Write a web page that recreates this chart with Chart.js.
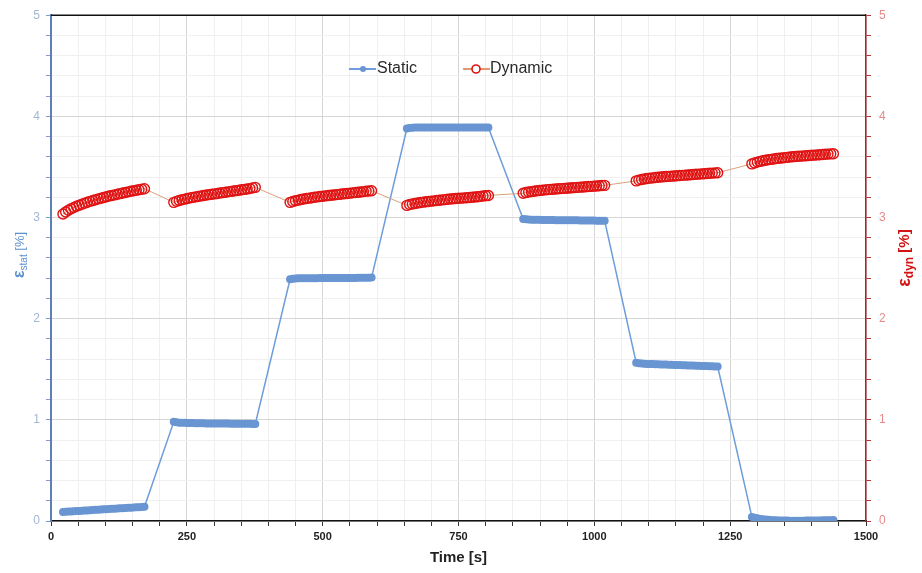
<!DOCTYPE html>
<html><head><meta charset="utf-8">
<script src="https://cdn.jsdelivr.net/npm/chart.js@4.4.0/dist/chart.umd.min.js"></script>
<style>html,body{margin:0;padding:0;background:#fff;overflow:hidden}</style>
</head><body>
<canvas id="c" width="922" height="573"></canvas>
<script>
// ---- data ----
const seriesNames = ['Static', 'Dynamic'];
const time = [
  22,27,32,37,42,47,52,57,62,67,72,77,82,87,92,97,102,107,112,117,122,127,132,137,142,147,152,157,162,167,172,
  226,231,236,241,246,251,256,261,266,271,276,281,286,291,296,301,306,311,316,321,326,331,336,341,346,351,356,361,366,371,376,
  440,445,450,455,460,465,470,475,480,485,490,495,500,505,510,515,520,525,530,535,540,545,550,555,560,565,570,575,580,585,590,
  655,660,665,670,675,680,685,690,695,700,705,710,715,720,725,730,735,740,745,750,755,760,765,770,775,780,785,790,795,800,805,
  869,874,879,884,889,894,899,904,909,914,919,924,929,934,939,944,949,954,959,964,969,974,979,984,989,994,999,1004,1009,1014,1019,
  1077,1082,1087,1092,1097,1102,1107,1112,1117,1122,1127,1132,1137,1142,1147,1152,1157,1162,1167,1172,1177,1182,1187,1192,1197,1202,1207,1212,1217,1222,1227,
  1290,1295,1300,1305,1310,1315,1320,1325,1330,1335,1340,1345,1350,1355,1360,1365,1370,1375,1380,1385,1390,1395,1400,1405,1410,1415,1420,1425,1430,1435,1440
];
const staticStrain = [
  0.090,0.092,0.093,0.095,0.097,0.098,0.100,0.102,0.103,0.105,0.107,0.108,0.110,0.112,0.113,0.115,0.117,0.118,0.120,0.122,0.123,0.125,0.127,0.128,0.130,0.132,0.133,0.135,0.137,0.138,0.140,
  0.980,0.975,0.972,0.970,0.970,0.969,0.968,0.968,0.967,0.967,0.966,0.966,0.965,0.965,0.965,0.964,0.964,0.964,0.963,0.963,0.963,0.962,0.962,0.962,0.962,0.961,0.961,0.961,0.961,0.960,0.960,
  2.390,2.395,2.398,2.400,2.400,2.400,2.400,2.400,2.400,2.400,2.400,2.401,2.401,2.401,2.401,2.401,2.402,2.402,2.402,2.402,2.402,2.403,2.403,2.403,2.403,2.404,2.404,2.404,2.405,2.405,2.406,
  3.880,3.885,3.888,3.889,3.890,3.890,3.890,3.890,3.890,3.890,3.890,3.890,3.890,3.890,3.890,3.890,3.890,3.890,3.890,3.890,3.890,3.890,3.890,3.890,3.890,3.890,3.890,3.890,3.890,3.890,3.890,
  2.985,2.982,2.980,2.979,2.978,2.977,2.977,2.976,2.976,2.975,2.975,2.975,2.974,2.974,2.974,2.973,2.973,2.973,2.972,2.972,2.972,2.971,2.971,2.971,2.970,2.970,2.970,2.969,2.969,2.968,2.968,
  1.565,1.560,1.557,1.555,1.553,1.552,1.551,1.550,1.549,1.548,1.547,1.546,1.545,1.544,1.543,1.542,1.541,1.540,1.539,1.538,1.537,1.536,1.535,1.534,1.533,1.532,1.531,1.530,1.529,1.528,1.527,
  0.040,0.032,0.026,0.021,0.017,0.014,0.012,0.010,0.008,0.007,0.006,0.005,0.004,0.004,0.003,0.003,0.003,0.003,0.003,0.003,0.004,0.004,0.005,0.005,0.006,0.006,0.007,0.007,0.008,0.008,0.009
];
const dynamicStrain = [
  3.035,3.055,3.072,3.086,3.099,3.111,3.122,3.132,3.142,3.151,3.160,3.168,3.176,3.184,3.191,3.198,3.205,3.212,3.218,3.224,3.230,3.236,3.242,3.248,3.254,3.259,3.264,3.270,3.275,3.280,3.285,
  3.150,3.160,3.168,3.175,3.182,3.188,3.194,3.199,3.204,3.209,3.214,3.218,3.222,3.226,3.230,3.234,3.238,3.242,3.246,3.250,3.254,3.258,3.262,3.266,3.270,3.274,3.278,3.282,3.286,3.293,3.298,
  3.150,3.159,3.166,3.172,3.178,3.183,3.188,3.192,3.196,3.200,3.204,3.208,3.211,3.214,3.217,3.220,3.223,3.226,3.229,3.232,3.235,3.238,3.241,3.244,3.247,3.250,3.253,3.256,3.259,3.262,3.265,
  3.120,3.128,3.134,3.139,3.144,3.148,3.152,3.156,3.159,3.162,3.165,3.168,3.171,3.174,3.177,3.180,3.183,3.186,3.188,3.190,3.192,3.194,3.196,3.198,3.200,3.203,3.206,3.209,3.212,3.215,3.218,
  3.240,3.247,3.252,3.256,3.260,3.264,3.267,3.270,3.273,3.276,3.278,3.280,3.282,3.284,3.286,3.288,3.290,3.292,3.294,3.296,3.298,3.300,3.302,3.304,3.306,3.308,3.310,3.312,3.314,3.316,3.318,
  3.362,3.370,3.376,3.381,3.385,3.389,3.392,3.395,3.398,3.401,3.403,3.405,3.407,3.409,3.411,3.413,3.415,3.417,3.419,3.421,3.423,3.425,3.427,3.429,3.431,3.433,3.435,3.437,3.439,3.441,3.443,
  3.530,3.540,3.548,3.555,3.561,3.566,3.571,3.575,3.579,3.583,3.586,3.589,3.592,3.595,3.598,3.601,3.603,3.605,3.607,3.609,3.611,3.613,3.615,3.617,3.619,3.621,3.623,3.625,3.627,3.629,3.631
];
const xTickLabels = [0, 250, 500, 750, 1000, 1250, 1500];
const yTickLabels = [0, 1, 2, 3, 4, 5];
const xTitle = 'Time [s]';
const yLeftTitle = ['ε', 'stat', ' [%]'];
const yRightTitle = ['ε', 'dyn', ' [%]'];

// ---- build ----
const pts = arr => arr.map((v, i) => ({x: time[i], y: v}));
const isLabel = (list, v) => list.some(t => Math.abs(t - v) < 1e-6);
const FONT = '"Liberation Sans", Arial, sans-serif';

function vTitle(ctx, x, y, parts, sizes, color, bolds) {
  ctx.save();
  ctx.translate(x, y);
  ctx.rotate(-Math.PI / 2);
  ctx.fillStyle = color;
  ctx.textBaseline = 'middle';
  ctx.textAlign = 'left';
  const fonts = sizes.map((s, i) => (bolds[i] ? 'bold ' : '') + s + 'px ' + FONT);
  const w = parts.map((p, i) => { ctx.font = fonts[i]; return ctx.measureText(p).width; });
  let cx = -w.reduce((a, b) => a + b, 0) / 2;
  parts.forEach((p, i) => {
    ctx.font = fonts[i];
    ctx.fillText(p, cx, i === 1 ? sizes[0] * 0.25 : 0);
    cx += w[i];
  });
  ctx.restore();
}

const deco = {
  id: 'deco',
  afterDraw(chart) {
    const {ctx, chartArea: a} = chart;
    ctx.save();
    // top frame line
    ctx.strokeStyle = '#111';
    ctx.lineWidth = 1.5;
    ctx.beginPath(); ctx.moveTo(a.left, a.top); ctx.lineTo(a.right, a.top); ctx.stroke();
    // legend
    const ds = chart.data.datasets;
    const ly = 69;
    ctx.font = '16px ' + FONT;
    ctx.textBaseline = 'middle';
    // static
    ctx.strokeStyle = ds[0].borderColor; ctx.lineWidth = 2;
    ctx.beginPath(); ctx.moveTo(349, ly); ctx.lineTo(376, ly); ctx.stroke();
    ctx.fillStyle = ds[0].pointBackgroundColor;
    ctx.beginPath(); ctx.arc(363, ly, 3, 0, Math.PI * 2); ctx.fill();
    ctx.fillStyle = '#2a2a2a';
    ctx.fillText(ds[0].label, 377, ly);
    // dynamic
    ctx.strokeStyle = '#e39a6a'; ctx.lineWidth = 2;
    ctx.beginPath(); ctx.moveTo(463, ly); ctx.lineTo(490, ly); ctx.stroke();
    ctx.strokeStyle = ds[1].pointBorderColor; ctx.lineWidth = 1.6;
    ctx.fillStyle = '#fff';
    ctx.beginPath(); ctx.arc(476, ly, 4, 0, Math.PI * 2); ctx.fill(); ctx.stroke();
    ctx.fillStyle = '#2a2a2a';
    ctx.fillText(ds[1].label, 490, ly);
    ctx.restore();
    // axis titles with subscripts
    vTitle(ctx, 20, 255, yLeftTitle, [16, 10, 13], '#5b8fd0', [true, false, false]);
    vTitle(ctx, 905, 258, yRightTitle, [18, 12, 15], '#d21414', [true, true, true]);
  }
};

new Chart(document.getElementById('c'), {
  type: 'scatter',
  data: {
    datasets: [
      {
        label: seriesNames[0],
        data: pts(staticStrain),
        yAxisID: 'y',
        showLine: true,
        borderColor: '#6d9ddb',
        borderWidth: 1.5,
        pointRadius: 4,
        pointBackgroundColor: '#6995d2',
        pointBorderColor: '#6995d2',
        pointBorderWidth: 0,
        order: 2
      },
      {
        label: seriesNames[1],
        data: pts(dynamicStrain),
        yAxisID: 'y2',
        showLine: true,
        borderColor: '#d8a07c',
        borderWidth: 1,
        pointRadius: 5,
        pointBackgroundColor: 'rgba(255,255,255,0)',
        pointBorderColor: '#e01212',
        pointBorderWidth: 1.4,
        order: 1
      }
    ]
  },
  options: {
    responsive: false,
    animation: false,
    layout: {padding: {top: 15, left: 0, right: 0, bottom: 0}},
    plugins: {legend: {display: false}, tooltip: {enabled: false}},
    scales: {
      x: {
        type: 'linear', min: 0, max: 1500,
        afterFit: s => { s.height = 52; },
        ticks: {
          stepSize: 50, autoSkip: false, maxRotation: 0, padding: 4,
          color: '#222', font: {family: FONT, size: 11, weight: 'bold'},
          callback: v => isLabel(xTickLabels, v) ? String(v) : ''
        },
        grid: {
          color: c => isLabel(xTickLabels, c.tick.value) ? '#d6d6d6' : '#efefef',
          tickColor: '#333', tickLength: 5, lineWidth: 1
        },
        border: {color: '#111', width: 1.5},
        title: {display: true, text: xTitle, color: '#222',
                font: {family: FONT, size: 15, weight: 'bold'}, padding: {top: 0, bottom: 6}}
      },
      y: {
        type: 'linear', position: 'left', min: 0, max: 5,
        afterFit: s => { s.width = 51; },
        ticks: {
          stepSize: 0.2, autoSkip: false, padding: 6,
          color: '#a3b7d4', font: {family: FONT, size: 12},
          callback: v => isLabel(yTickLabels, v) ? String(Math.round(v)) : ''
        },
        grid: {
          color: c => isLabel(yTickLabels, c.tick.value) ? '#d6d6d6' : '#f0f0f0',
          tickColor: '#7f9ccb', tickLength: 5
        },
        border: {color: '#5d7fb3', width: 2}
      },
      y2: {
        type: 'linear', position: 'right', min: 0, max: 5,
        afterFit: s => { s.width = 56; },
        ticks: {
          stepSize: 0.2, autoSkip: false, padding: 8,
          color: '#e58a8a', font: {family: FONT, size: 12},
          callback: v => isLabel(yTickLabels, v) ? String(Math.round(v)) : ''
        },
        grid: {drawOnChartArea: false, tickColor: '#b33', tickLength: 5},
        border: {color: '#b02020', width: 1.5}
      }
    }
  },
  plugins: [deco]
});
</script>
</body></html>
